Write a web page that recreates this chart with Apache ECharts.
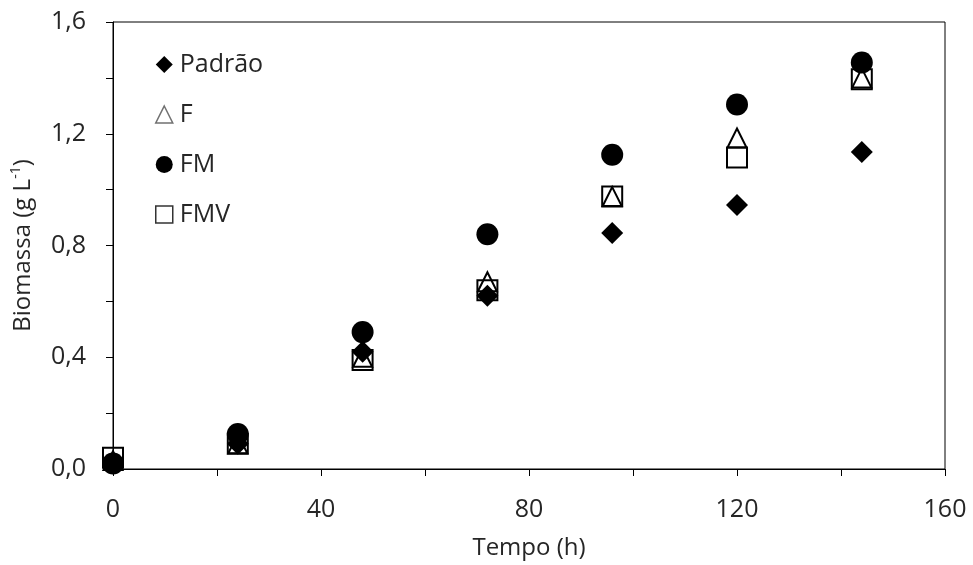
<!DOCTYPE html>
<html>
<head>
<meta charset="utf-8">
<script src="https://cdn.jsdelivr.net/npm/echarts@6/dist/echarts.min.js"></script>
<style>
  html, body { margin: 0; padding: 0; background: #fff; }
  #chart { width: 973px; height: 565px; }
</style>
</head>
<body>
<div id="chart"></div>
<script>
// tempo (h)
const tempo = [0, 24, 48, 72, 96, 120, 144];
// biomassa (g/L) por formulação
const padrao = [0.02, 0.09, 0.42, 0.62, 0.845, 0.945, 1.135];
const f = [0.03, 0.09, 0.40, 0.67, 0.975, 1.185, 1.40];
const fm = [0.02, 0.125, 0.49, 0.84, 1.125, 1.305, 1.455];
const fmv = [0.04, 0.09, 0.39, 0.64, 0.975, 1.115, 1.395];

const ink = '#262626';
const font = 'Open Sans';

const pairs = (ys) => tempo.map((t, i) => [t, ys[i]]);

const chart = echarts.init(document.getElementById('chart'));
chart.setOption({
  animation: false,
  grid: {
    left: 113, right: 28, top: 22, bottom: 95,
    show: true, borderColor: '#000', borderWidth: 1
  },
  legend: {
    orient: 'vertical',
    left: 150, top: 47,
    itemWidth: 17, itemHeight: 17, itemGap: 25,
    textStyle: { fontFamily: font, fontSize: 25, color: ink, padding: [0, 0, 0, 2] },
    data: [
      { name: 'Padrão' },
      { name: 'F', itemStyle: { borderColor: '#707070', borderWidth: 1.5 } },
      { name: 'FM' },
      { name: 'FMV', itemStyle: { borderColor: '#333', borderWidth: 1.5 } }
    ]
  },
  xAxis: {
    type: 'value', min: 0, max: 160, interval: 20,
    name: 'Tempo (h)', nameLocation: 'middle', nameGap: 67,
    nameTextStyle: { fontFamily: font, fontSize: 24, color: ink },
    axisLine: { lineStyle: { color: '#000', width: 1 } },
    axisTick: { length: 7, lineStyle: { color: '#000' } },
    axisLabel: {
      fontFamily: font, fontSize: 25, color: ink, margin: 28,
      formatter: (v) => (v % 40 === 0 ? String(v) : '')
    },
    splitLine: { show: false }
  },
  yAxis: {
    type: 'value', min: 0, max: 1.6, interval: 0.2,
    name: '{a|Biomassa (g L}{s|-1}{a|)}', nameLocation: 'middle', nameGap: 76, nameRotate: 90,
    nameTextStyle: {
      rich: {
        a: { fontFamily: font, fontSize: 24, color: ink, lineHeight: 28 },
        s: { fontFamily: font, fontSize: 14, color: ink, verticalAlign: 'top', lineHeight: 28, padding: [0, 0, 12, 0] }
      }
    },
    axisLine: { show: true, lineStyle: { color: '#000', width: 1 } },
    axisTick: { show: true, length: 7, lineStyle: { color: '#000' } },
    axisLabel: {
      fontFamily: font, fontSize: 25, color: ink, margin: 27,
      formatter: (v) => {
        const k = Math.round(v * 10);
        return k % 4 === 0 ? (k / 10).toFixed(1).replace('.', ',') : '';
      }
    },
    splitLine: { show: false }
  },
  series: [
    {
      name: 'Padrão', type: 'scatter', symbol: 'diamond', symbolSize: 22,
      itemStyle: { color: '#000', opacity: 1 }, data: pairs(padrao)
    },
    {
      name: 'F', type: 'scatter', symbol: 'triangle', symbolSize: [19, 19],
      itemStyle: { color: 'rgba(255,255,255,0)', borderColor: '#000', borderWidth: 2, opacity: 1 },
      data: pairs(f)
    },
    {
      name: 'FM', type: 'scatter', symbol: 'circle', symbolSize: 22,
      itemStyle: { color: '#000', opacity: 1 }, data: pairs(fm)
    },
    {
      name: 'FMV', type: 'scatter', symbol: 'rect', symbolSize: 20,
      itemStyle: { color: 'rgba(255,255,255,0)', borderColor: '#000', borderWidth: 2, opacity: 1 },
      data: pairs(fmv)
    }
  ]
});
</script>
</body>
</html>
